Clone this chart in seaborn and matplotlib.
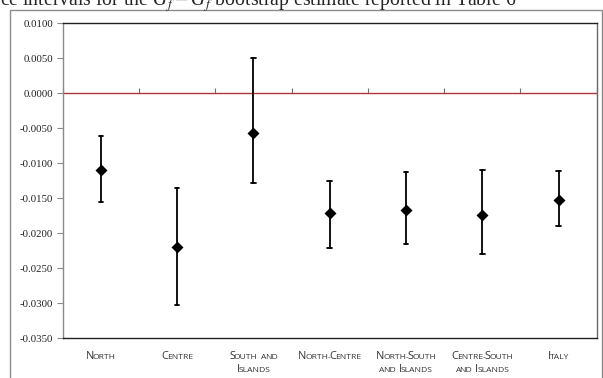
import numpy as np
import pandas as pd
import matplotlib
matplotlib.use("Agg")
import matplotlib.pyplot as plt
import matplotlib.transforms as mtransforms
from matplotlib.patches import Rectangle
import seaborn as sns

# Bootstrap estimates and 95% confidence bounds by macro-area
areas = ["North", "Centre", "South and\nIslands", "North-Centre",
         "North-South\nand Islands", "Centre-South\nand Islands", "Italy"]
estimate = [-0.0110, -0.0219, -0.0056, -0.0171, -0.0166, -0.0174, -0.0153]
lower = [-0.0156, -0.0302, -0.0128, -0.0221, -0.0215, -0.0229, -0.0190]
upper = [-0.0061, -0.0135, 0.0050, -0.0125, -0.0112, -0.0110, -0.0111]
y_ticks = [0.0100, 0.0050, 0.0000, -0.0050, -0.0100, -0.0150, -0.0200,
           -0.0250, -0.0300, -0.0350]

# long table: each area carries its lower bound, estimate and upper bound;
# the median gives the estimate, the 0-100 percentile interval the bounds
rows = []
for a, lo, est, hi in zip(areas, lower, estimate, upper):
    for v in (lo, est, hi):
        rows.append({"area": a, "value": v})
df = pd.DataFrame(rows)

sns.set_theme(style="white")
plt.rcParams["font.family"] = ["Liberation Serif", "DejaVu Serif"]

W, H = 603, 378
fig = plt.figure(figsize=(W / 100, H / 100), dpi=100)
ax = fig.add_axes([62.7 / W, 1 - 338.3 / H, (596.7 - 62.7) / W, (338.3 - 23.3) / H])

sns.pointplot(data=df, x="area", y="value", order=areas,
              estimator=np.median, errorbar=("pi", 100),
              linestyle="none", marker="D", markersize=4.3,
              color="black", err_kws={"linewidth": 1.3},
              capsize=0.06, ax=ax)

ymin, ymax = min(y_ticks), max(y_ticks)
ax.set_ylim(ymin, ymax)
ax.set_xlim(-0.5, len(areas) - 0.5)
ax.set_yticks(y_ticks)
ax.set_yticklabels([f"{t:.4f}" for t in y_ticks], fontsize=7.8,
                   family=["Liberation Serif"])
ax.set_xlabel("")
ax.set_ylabel("")
ax.tick_params(axis="y", direction="out", length=4, width=0.8,
               color="#8a8a8a", pad=3, labelcolor="#222222", left=True)
ax.set_xticks(range(len(areas)))
ax.set_xticklabels([])
ax.tick_params(axis="x", length=0)

for side, col in [("top", "#202020"), ("bottom", "#202020"),
                  ("left", "#8a8a8a"), ("right", "#6a6a6a")]:
    ax.spines[side].set_visible(True)
    ax.spines[side].set_color(col)
    ax.spines[side].set_linewidth(1.0)

# horizontal axis crossing at zero, red, with category separators
ax.axhline(0, color="#b0343c", linewidth=1.0, zorder=1)
zero_frac = (0 - ymin) / (ymax - ymin)
sec = ax.secondary_xaxis(zero_frac)
sec.set_xticks(np.arange(-0.5, len(areas), 1.0))
sec.set_xticklabels([])
sec.tick_params(direction="out", length=3.5, width=0.8, color="#707070")
sec.spines["bottom"].set_visible(False)
sec.spines["top"].set_visible(False)

# category labels in small capitals, laid out piece by piece
LABEL_FONT = dict(family="Open Sans", color="#333333")
BIG, SMALL = 7.9, 6.1
renderer = fig.canvas.get_renderer()


def text_width(s, size):
    t = fig.text(0, 0, s, fontsize=size, **LABEL_FONT)
    w = t.get_window_extent(renderer).width
    t.remove()
    return w


def small_caps_pieces(text):
    pieces = []  # (string, size, spacing before, in px)
    for i, word in enumerate(text.split(" ")):
        for j, chunk in enumerate(word.split("-")):
            if j:
                pieces.append(("-", SMALL, -0.6))
            head, tail = chunk[0], chunk[1:]
            gap = 3.0 if (i and j == 0) else (-0.6 if j else 0.0)
            pieces.append((head.upper(), BIG if head.isupper() else SMALL, gap))
            if tail:
                pieces.append((tail.upper(), SMALL, -1.3))
    return pieces


blend = mtransforms.blended_transform_factory(ax.transData, ax.transAxes)
line_baselines = [-20.5, -33.5]  # px below the plot frame
for i, name in enumerate(areas):
    for k, line in enumerate(name.split("\n")):
        pieces = small_caps_pieces(line)
        widths = [text_width(s, sz) for s, sz, _ in pieces]
        total = sum(widths) + sum(g for _, _, g in pieces)
        x = -total / 2
        for (s, sz, g), w in zip(pieces, widths):
            x += g
            tr = mtransforms.offset_copy(blend, fig=fig, x=x,
                                         y=line_baselines[k], units="dots")
            ax.text(i, 0, s, transform=tr, fontsize=sz, ha="left",
                    va="baseline", clip_on=False, **LABEL_FONT)
            x += w

# outer chart frame
fig.patches.append(Rectangle((10 / W, -0.05), (602 - 10) / W, 1 - 10 / H + 0.05,
                             transform=fig.transFigure, fill=False,
                             edgecolor="#8c8c8c", linewidth=1.0))

# running caption line above the chart
fig.text(0.0, 1 - 6.0 / H,
         r"ce intervals for the $\hat{G}_f - G_f$ bootstrap estimate reported in Table 6",
         fontsize=14.2, family=["Liberation Serif"], va="baseline", ha="left",
         math_fontfamily="stix")

fig.savefig("out.png", dpi=100)
